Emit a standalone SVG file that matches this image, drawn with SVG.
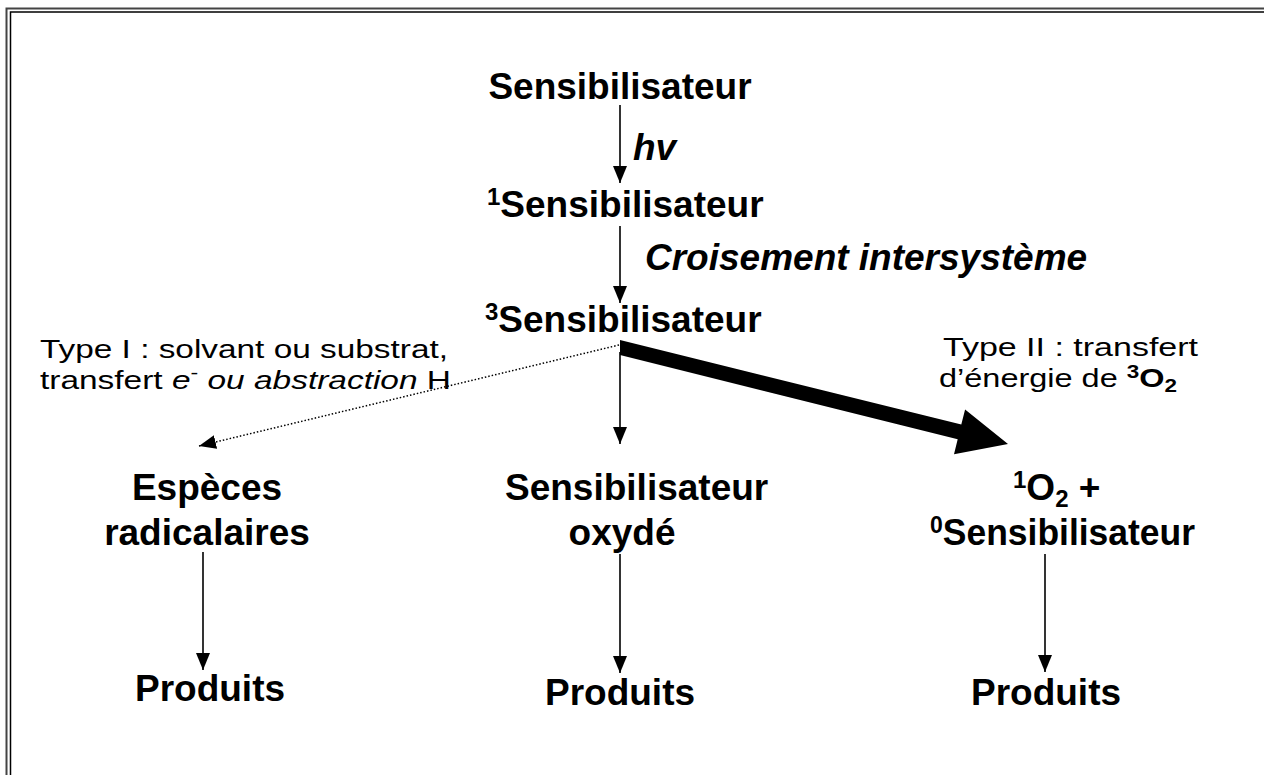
<svg xmlns="http://www.w3.org/2000/svg" width="1264" height="775" viewBox="0 0 1264 775">
<style>
text{font-family:"Liberation Sans",Arial,sans-serif;fill:#000}
.b{font-weight:bold;font-size:37px}
.bi{font-weight:bold;font-style:italic;font-size:37px}
.r{font-size:26px}
.it{font-style:italic}
.sup{font-size:24px}
.sr{font-size:18px}
.conn{stroke:#000;stroke-width:1.6;fill:none}
.dot{stroke:#000;stroke-width:1.5;fill:none;stroke-dasharray:1.5 2}
</style>
<defs>
<marker id="ah" markerUnits="userSpaceOnUse" markerWidth="18" markerHeight="14" viewBox="0 0 18 14" refX="17" refY="7" orient="auto">
<path d="M0,0 L17,7 L0,14 Z" fill="#000"/>
</marker>
</defs>
<rect x="0" y="0" width="1264" height="775" fill="#fff"/>
<g id="frame">
<path d="M6.5,775 V8.5 H1264" stroke="#444" stroke-width="2" fill="none"/>
<path d="M10.5,775 V12 H1264" stroke="#000" stroke-width="1.5" fill="none"/>
</g>
<g id="connectors">
<line class="conn" x1="620" y1="105" x2="620" y2="183" marker-end="url(#ah)"/>
<line class="conn" x1="620" y1="226" x2="620" y2="303" marker-end="url(#ah)"/>
<line class="conn" x1="620" y1="352" x2="620" y2="444" marker-end="url(#ah)"/>
<line class="dot" x1="619" y1="345" x2="199" y2="446" marker-end="url(#ah)"/>
<polygon points="620,340 961.3,424.6 965.1,409.6 1008,444 954,454.2 957.7,439.2 620,355" fill="#000"/>
<line class="conn" x1="203" y1="552" x2="203" y2="670" marker-end="url(#ah)"/>
<line class="conn" x1="620" y1="554" x2="620" y2="673" marker-end="url(#ah)"/>
<line class="conn" x1="1045" y1="554" x2="1045" y2="672" marker-end="url(#ah)"/>
</g>
<g id="n-sens">
<text class="b" x="620" y="99" text-anchor="middle">Sensibilisateur</text>
</g>
<g id="l-hv">
<text class="bi" x="633" y="160">hv</text>
</g>
<g id="n-sens1">
<text class="b" x="487" y="217"><tspan class="sup" dy="-12">1</tspan><tspan dy="12">Sensibilisateur</tspan></text>
</g>
<g id="l-cis">
<text class="bi" x="645" y="270">Croisement intersystème</text>
</g>
<g id="n-sens3">
<text class="b" x="485" y="332"><tspan class="sup" dy="-12">3</tspan><tspan dy="12">Sensibilisateur</tspan></text>
</g>
<g id="l-type1">
<text class="r" x="40" y="358" textLength="408" lengthAdjust="spacingAndGlyphs">Type I : solvant ou substrat,</text>
<text class="r" x="40" y="389" textLength="411" lengthAdjust="spacingAndGlyphs">transfert <tspan class="it">e</tspan><tspan class="sr" dy="-10">-</tspan><tspan class="it" dy="10"> ou abstraction</tspan> H</text>
</g>
<g id="l-type2">
<text class="r" x="943" y="356" textLength="255" lengthAdjust="spacingAndGlyphs">Type II : transfert</text>
<text class="r" x="939" y="387" textLength="238" lengthAdjust="spacingAndGlyphs">d’énergie de <tspan class="sr" font-weight="bold" dy="-9">3</tspan><tspan font-weight="bold" dy="9">O</tspan><tspan class="sr" font-weight="bold" dy="5">2</tspan></text>
</g>
<g id="n-radicals">
<text class="b" x="207" y="500" text-anchor="middle">Espèces</text>
<text class="b" x="207" y="545" text-anchor="middle">radicalaires</text>
</g>
<g id="n-oxyde">
<text class="b" x="505" y="500">Sensibilisateur</text>
<text class="b" x="622" y="545" text-anchor="middle">oxydé</text>
</g>
<g id="n-o2">
<text class="b" x="1013" y="500"><tspan class="sup" dy="-12">1</tspan><tspan dy="12">O</tspan><tspan class="sup" dy="7">2</tspan><tspan dy="-7"> +</tspan></text>
<text class="b" x="930" y="545" textLength="265" lengthAdjust="spacingAndGlyphs"><tspan class="sup" dy="-12">0</tspan><tspan dy="12">Sensibilisateur</tspan></text>
</g>
<g id="n-prod1">
<text class="b" x="210" y="701" text-anchor="middle">Produits</text>
</g>
<g id="n-prod2">
<text class="b" x="620" y="705" text-anchor="middle">Produits</text>
</g>
<g id="n-prod3">
<text class="b" x="1046" y="705" text-anchor="middle">Produits</text>
</g>
</svg>
